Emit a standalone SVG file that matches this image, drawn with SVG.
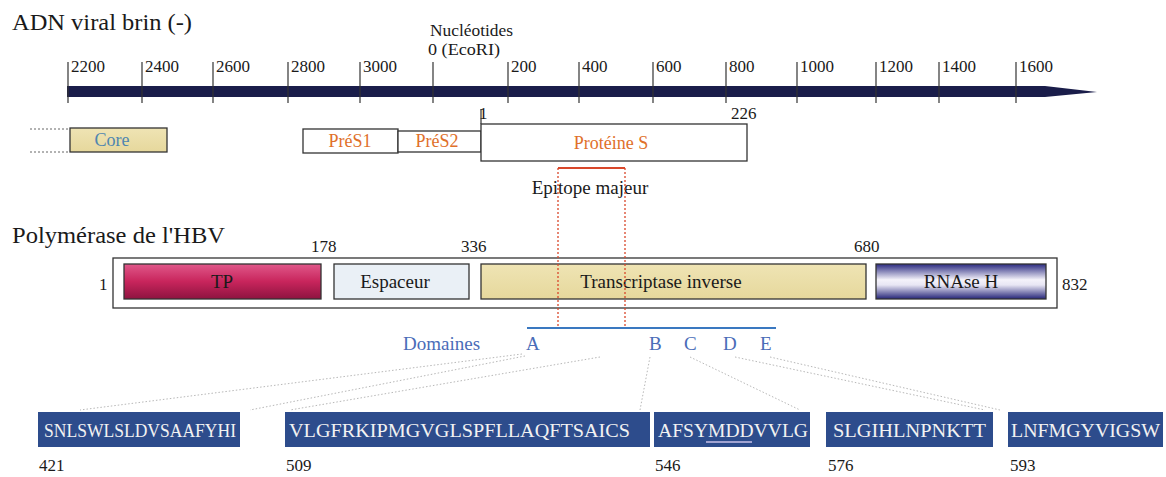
<svg xmlns="http://www.w3.org/2000/svg" width="1166" height="477" viewBox="0 0 1166 477">
<defs>
<style>
text{font-family:"Liberation Serif","Times New Roman",serif;fill:#1a1a1a}
.t{font-size:17px}
.title{font-size:23px}
.box{stroke:#333;stroke-width:1.3}
.seq{fill:#2d4c8c}
.seqt{font-size:19px;fill:#f2f2f2}
.orange{fill:#e0702a;font-size:18px;text-anchor:middle}
.lbl{font-size:19px;text-anchor:middle}
.dom{fill:#4a6cb8;font-size:19px}
.conn{stroke:#b8b8b8;stroke-width:1;stroke-dasharray:1.5 2;fill:none}
.ep{stroke:#d9472a;stroke-width:1.3;stroke-dasharray:2 2;fill:none}
.tick{stroke:#333;stroke-width:1.2}
</style>
<linearGradient id="gTP" x1="0" y1="0" x2="0" y2="1">
<stop offset="0" stop-color="#e0588a"/><stop offset="0.5" stop-color="#c8255c"/><stop offset="1" stop-color="#8e1440"/>
</linearGradient>
<linearGradient id="gRN" x1="0" y1="0" x2="0" y2="1">
<stop offset="0" stop-color="#2a2a80"/><stop offset="0.45" stop-color="#f4f2fa"/><stop offset="0.6" stop-color="#e8e6f4"/><stop offset="1" stop-color="#242478"/>
</linearGradient>
<linearGradient id="gTan" x1="0" y1="0" x2="0" y2="1">
<stop offset="0" stop-color="#efe4b4"/><stop offset="1" stop-color="#e6d89c"/>
</linearGradient>
</defs>

<g id="axis">
<text class="title" x="12" y="30" textLength="180" lengthAdjust="spacingAndGlyphs">ADN viral brin (-)</text>
<text x="430" y="36" font-size="16" textLength="83" lengthAdjust="spacingAndGlyphs">Nucléotides</text>
<text x="428" y="55" font-size="16" textLength="72" lengthAdjust="spacingAndGlyphs">0 (EcoRI)</text>
<polygon points="67,86 1045,86 1097,92 1045,97 67,97" fill="#1a1d4a"/>
<g class="tick">
<line x1="68" y1="62" x2="68" y2="103"/><line x1="142" y1="62" x2="142" y2="103"/><line x1="213" y1="62" x2="213" y2="103"/><line x1="288" y1="62" x2="288" y2="103"/><line x1="360" y1="62" x2="360" y2="103"/><line x1="433" y1="62" x2="433" y2="103"/><line x1="508" y1="62" x2="508" y2="103"/><line x1="579" y1="62" x2="579" y2="103"/><line x1="653" y1="62" x2="653" y2="103"/><line x1="726" y1="62" x2="726" y2="103"/><line x1="797" y1="62" x2="797" y2="103"/><line x1="876" y1="62" x2="876" y2="103"/><line x1="939" y1="62" x2="939" y2="103"/><line x1="1016" y1="62" x2="1016" y2="103"/>
</g>
<g class="t">
<text x="71" y="72">2200</text><text x="145" y="72">2400</text><text x="216" y="72">2600</text><text x="291" y="72">2800</text><text x="363" y="72">3000</text><text x="511" y="72">200</text><text x="582" y="72">400</text><text x="656" y="72">600</text><text x="729" y="72">800</text><text x="800" y="72">1000</text><text x="879" y="72">1200</text><text x="942" y="72">1400</text><text x="1019" y="72">1600</text>
</g>
</g>

<g id="core">
<line x1="30" y1="129" x2="70" y2="129" stroke="#666" stroke-dasharray="2 2"/>
<line x1="30" y1="152" x2="70" y2="152" stroke="#666" stroke-dasharray="2 2"/>
<rect x="70" y="128" width="97" height="24" fill="url(#gTan)" class="box"/>
<text x="112" y="146" font-size="18" text-anchor="middle" style="fill:#4f86b0">Core</text>
</g>

<g id="pres1">
<rect x="303" y="129" width="95" height="24" fill="#fff" class="box"/>
<text class="orange" x="350" y="147">PréS1</text>
</g>
<g id="pres2">
<rect x="398" y="131" width="83" height="21" fill="#fff" class="box"/>
<text class="orange" x="437" y="147">PréS2</text>
</g>
<g id="proteineS">
<line x1="481" y1="109" x2="481" y2="124" class="tick"/>
<text class="t" x="479" y="119">1</text>
<text class="t" x="731" y="119">226</text>
<rect x="481" y="124" width="266" height="37" fill="#fff" class="box"/>
<text class="orange" x="611" y="149" font-size="19">Protéine S</text>
</g>

<g id="epitope">
<line x1="558" y1="168" x2="625" y2="168" stroke="#d9472a" stroke-width="2"/>
<text class="lbl" x="590" y="194">Epitope majeur</text>
</g>

<g id="polymerase">
<text class="title" x="12" y="243" textLength="213" lengthAdjust="spacingAndGlyphs">Polymérase de l'HBV</text>
<text class="t" x="311" y="252">178</text>
<text class="t" x="461" y="252">336</text>
<text class="t" x="854" y="252">680</text>
<text class="t" x="99" y="290">1</text>
<text class="t" x="1062" y="290">832</text>
<rect x="113" y="258" width="944" height="50" fill="#fff" class="box"/>
</g>
<g id="tp">
<rect x="124" y="264" width="197" height="35" fill="url(#gTP)" class="box"/>
<text class="lbl" x="222" y="288" font-size="20">TP</text>
</g>
<g id="espaceur">
<rect x="334" y="264" width="135" height="35" fill="#eaf0f6" class="box"/>
<text class="lbl" x="395" y="288" font-size="20">Espaceur</text>
</g>
<g id="transcriptase">
<rect x="481" y="264" width="385" height="35" fill="url(#gTan)" class="box"/>
<text class="lbl" x="661" y="288" font-size="20">Transcriptase inverse</text>
</g>
<g id="rnaseh">
<rect x="876" y="264" width="170" height="35" fill="url(#gRN)" class="box"/>
<text class="lbl" x="961" y="288" font-size="20">RNAse H</text>
</g>

<g id="domaines">
<line x1="527" y1="328" x2="776" y2="328" stroke="#3a78c0" stroke-width="2"/>
<text class="dom" x="403" y="350">Domaines</text>
<text class="dom" x="526" y="350">A</text>
<text class="dom" x="649" y="350">B</text>
<text class="dom" x="684" y="350">C</text>
<text class="dom" x="723" y="350">D</text>
<text class="dom" x="760" y="350">E</text>
</g>

<g id="connectors">
<path class="ep" d="M558,168 V328 M625,168 V328"/>
<path class="conn" d="M522,354 L80,410 M525,356 L250,410 M600,357 L290,410 M650,357 L640,410 M690,357 L800,410 M735,357 L985,410 M770,357 L1000,410"/>
</g>

<g id="seq1">
<rect class="seq" x="38" y="412" width="202" height="35"/>
<text class="seqt" x="44" y="437" textLength="192" lengthAdjust="spacingAndGlyphs">SNLSWLSLDVSAAFYHI</text>
<text class="t" x="39" y="471">421</text>
</g>
<g id="seq2">
<rect class="seq" x="285" y="412" width="365" height="35"/>
<text class="seqt" x="289" y="437" textLength="341" lengthAdjust="spacingAndGlyphs">VLGFRKIPMGVGLSPFLLAQFTSAICS</text>
<text class="t" x="286" y="471">509</text>
</g>
<g id="seq3">
<rect class="seq" x="654" y="412" width="156" height="35"/>
<text class="seqt" x="658" y="437" textLength="150" lengthAdjust="spacingAndGlyphs">AFSYMDDVVLG</text>
<line x1="706" y1="442" x2="752" y2="442" stroke="#c8c0e8" stroke-width="1.5"/>
<text class="t" x="655" y="471">546</text>
</g>
<g id="seq4">
<rect class="seq" x="826" y="412" width="167" height="35"/>
<text class="seqt" x="833" y="437" textLength="153" lengthAdjust="spacingAndGlyphs">SLGIHLNPNKTT</text>
<text class="t" x="828" y="471">576</text>
</g>
<g id="seq5">
<rect class="seq" x="1008" y="412" width="155" height="35"/>
<text class="seqt" x="1011" y="437" textLength="149" lengthAdjust="spacingAndGlyphs">LNFMGYVIGSW</text>
<text class="t" x="1010" y="471">593</text>
</g>
</svg>
